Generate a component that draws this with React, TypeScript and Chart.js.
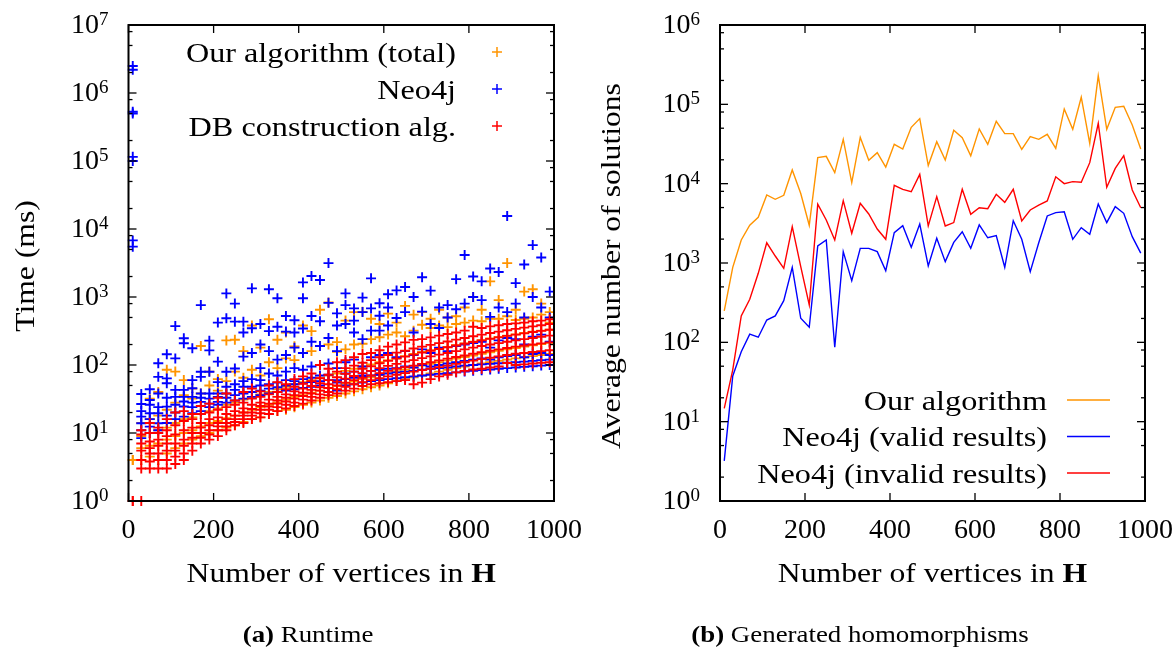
import React, { useEffect, useRef } from "react";
import { Chart, registerables } from "chart.js";

Chart.register(...registerables);

// ---------- data ----------
const X_COLS = [10, 30, 50, 70, 90, 110, 130, 150, 170, 190, 210, 230, 250, 270, 290, 310, 330, 350, 370, 390, 410, 430, 450, 470, 490, 510, 530, 550, 570, 590, 610, 630, 650, 670, 690, 710, 730, 750, 770, 790, 810, 830, 850, 870, 890, 910, 930, 950, 970, 990];
const X_TICKS = [0, 200, 400, 600, 800, 1000];
const RUNTIME_DECADES = [0, 1, 2, 3, 4, 5, 6, 7];
const SOLUTION_DECADES = [0, 1, 2, 3, 4, 5, 6];
const MINOR_MULTIPLES = [2, 5, 8];

// runtime (ms) per column of X_COLS
const runtimeOurs: number[][] = [
  [4, 4], [4, 6, 9, 14], [4.5, 6.5, 10, 16, 32], [4, 7, 11, 18, 40], [5, 8, 12, 22, 85],
  [6, 9, 14, 28, 80], [7, 10, 16, 36, 60], [8, 11, 17, 45, 32], [9, 12.5, 19, 38, 190], [10, 14, 21, 50, 80],
  [11, 15, 23, 42, 62], [12, 16.5, 26, 58, 230], [13, 18, 28, 80, 235], [14.5, 20, 31, 65, 160], [16, 22, 34, 85, 380],
  [17, 24, 37, 70, 180], [19, 26, 40, 110, 470], [21, 28, 44, 90, 235], [22, 31, 48, 125, 300], [24, 34, 52, 118, 188],
  [26, 36, 56, 150, 380], [28, 39, 60, 160, 315], [30, 42, 65, 190, 650], [33, 46, 70, 200, 830], [35, 49, 75, 157, 217],
  [38, 53, 82, 170, 450], [41, 57, 88, 200, 600], [44, 62, 95, 205, 605], [47, 66, 102, 240, 480], [50, 71, 110, 256, 400],
  [54, 76, 118, 280, 570], [58, 81, 126, 300, 420], [62, 86, 135, 265, 740], [66, 92, 145, 320, 550], [70, 98, 155, 390, 600],
  [75, 104, 165, 350, 480], [80, 110, 175, 380, 650], [85, 117, 185, 360, 500], [90, 124, 196, 400, 520], [95, 131, 208, 420, 700],
  [100, 138, 220, 450, 1000], [105, 146, 232, 440, 650], [110, 154, 245, 480, 1700], [115, 162, 258, 480, 900], [120, 170, 270, 520, 3150],
  [125, 178, 282, 460, 650], [130, 186, 295, 480, 1200], [135, 195, 308, 500, 1300], [140, 204, 320, 550, 800], [145, 212, 330, 420, 600],
];

const runtimeNeo4j: number[][] = [
  [2500000, 2200000, 530000, 500000, 115000, 100000, 6800, 5500],
  [8.4, 11, 13.9, 17.4, 21, 26.7, 37.5], [10, 12.4, 16, 19.5, 26, 30.5, 44], [11, 13.9, 19.5, 24, 38, 67, 106],
  [14, 18, 24.4, 33, 54, 63.5, 144], [16, 20, 26, 34, 43, 125, 373], [17.4, 24.5, 29, 34, 43, 209, 247],
  [19.5, 24, 28, 34, 45.5, 60, 176], [21, 28.7, 33, 38, 67, 79.5, 760], [24, 27, 32, 38, 79.5, 164, 228],
  [26, 28.7, 34, 38, 56, 112, 420], [28, 33, 38, 48, 79.5, 486, 1130], [30, 36, 43, 52, 89, 434, 800],
  [32, 38, 48, 58, 133, 300, 434], [34, 40, 48, 62, 150, 347, 1340], [36, 42, 50, 60, 90, 200, 400],
  [38, 45, 52, 75, 160, 315, 1300], [40, 47, 55, 70, 120, 365, 960], [42, 50, 60, 80, 140, 310, 525],
  [44, 52, 58, 90, 180, 300, 455], [46, 54, 62, 85, 150, 345, 960, 1640], [48, 56, 65, 95, 220, 525, 2040],
  [50, 58, 70, 100, 190, 440, 1780], [40, 60, 72, 105, 250, 820, 3150], [42, 55, 60, 90, 160, 380, 575],
  [50, 62, 75, 110, 400, 760, 1130], [52, 65, 80, 120, 300, 450, 680], [55, 68, 70, 95, 240, 600, 980],
  [58, 70, 82, 130, 320, 680, 1880], [60, 72, 85, 140, 320, 530, 810], [62, 75, 88, 150, 380, 700, 1100],
  [64, 78, 90, 130, 490, 1250], [66, 80, 95, 160, 600, 1400], [68, 82, 92, 140, 300, 1000],
  [70, 85, 100, 170, 610, 1950], [72, 88, 95, 150, 400, 1240], [74, 90, 100, 180, 350, 700],
  [76, 92, 105, 160, 500, 760], [78, 95, 110, 190, 660, 1830], [80, 98, 115, 200, 800, 4150],
  [82, 100, 120, 210, 1000, 2000], [84, 102, 125, 220, 900, 1700], [86, 104, 120, 180, 510, 2630],
  [88, 106, 130, 230, 700, 2330], [90, 108, 135, 250, 600, 15500], [92, 110, 140, 240, 800, 1600],
  [94, 112, 130, 200, 500, 3000], [96, 115, 145, 260, 1000, 5800], [98, 118, 150, 280, 700, 3800],
  [100, 120, 140, 220, 500, 1200],
];

const runtimeDB: number[][] = [
  [1, 1], [1, 3, 4, 5.5, 7, 9.5, 11], [3, 3.8, 5, 6, 7.5, 10, 14], [3, 4, 5, 6.5, 8, 10, 12], [3, 4, 5.5, 7, 9, 11, 16],
  [3.5, 4.5, 5.5, 7, 9.5, 13, 20], [4, 5, 6.5, 8, 11, 15, 21], [5.5, 7, 8.5, 10, 12, 16, 19], [7, 8.5, 10, 12, 14, 19, 25], [8, 9.5, 11, 13, 16, 20, 27],
  [9, 11, 12.5, 14, 17, 22, 33], [11, 12.5, 14, 16, 19, 24, 38], [13, 14.5, 16, 18, 21, 26, 30], [14, 16, 18, 20, 23, 28, 40], [16, 18, 20, 22.5, 26, 32, 45],
  [17, 19.5, 22, 25, 28, 34, 41], [19, 22, 24.5, 27, 31, 37, 50], [21, 24, 27, 30, 34, 40, 56], [23, 26, 29, 33, 37, 44, 52], [25, 28, 32, 36, 41, 48, 62],
  [27, 31, 35, 39, 45, 53, 68], [30, 34, 38, 43, 49, 58, 75], [33, 37, 42, 47, 54, 64, 100], [36, 40, 46, 52, 60, 72, 88], [38, 44, 50, 57, 66, 80, 110],
  [42, 48, 55, 63, 74, 90, 118], [45, 52, 60, 69, 80, 98, 130], [49, 56, 65, 76, 88, 108, 145], [52, 60, 70, 82, 96, 118, 150], [54, 64, 76, 90, 106, 130, 165],
  [56, 68, 82, 97, 115, 140, 186], [58, 72, 88, 104, 124, 152, 200], [60, 76, 93, 112, 133, 162, 215], [52, 80, 98, 118, 142, 175, 234], [55, 84, 104, 126, 152, 186, 240],
  [62, 88, 110, 134, 162, 198, 255], [68, 93, 117, 142, 172, 210, 270], [72, 98, 124, 150, 182, 222, 285], [78, 104, 131, 160, 194, 236, 300], [82, 110, 138, 170, 205, 250, 320],
  [86, 116, 146, 180, 218, 265, 365], [88, 122, 154, 190, 230, 280, 350], [92, 128, 162, 200, 242, 295, 370], [95, 134, 170, 210, 255, 310, 385], [107, 140, 178, 220, 268, 325, 400],
  [100, 146, 186, 230, 280, 340, 410], [102, 150, 194, 240, 292, 355, 420], [105, 155, 200, 250, 305, 370, 440], [108, 160, 208, 260, 318, 385, 450], [110, 165, 215, 270, 330, 400, 470],
];

// average number of solutions per X_COLS
const solOurs = [250, 880, 1950, 3000, 3770, 7200, 6350, 7130, 14900, 7500, 2990, 21300, 22100, 13800, 36200, 10300, 38400, 19700, 24600, 16200, 31300, 27300, 51400, 66100, 16900, 33800, 19900, 47100, 38000, 22500, 49000, 31300, 61100, 42700, 42700, 27100, 39100, 36200, 41900, 27900, 87400, 48400, 123000, 32200, 229700, 48400, 91600, 94400, 55000, 27300];
const solValid = [3.2, 37.7, 76, 127, 116, 191, 215, 335, 883, 201, 155, 1640, 1950, 86.6, 1390, 598, 1530, 1530, 1390, 800, 2410, 2950, 1580, 3100, 917, 2050, 1040, 1820, 2480, 1530, 3020, 2080, 2210, 883, 3410, 1990, 777, 1800, 3920, 4310, 4430, 1990, 2790, 2300, 5540, 3230, 5130, 4230, 2150, 1330];
const solInvalid = [14.7, 45, 215, 349, 741, 1800, 1225, 858, 2870, 900, 296, 5500, 3480, 1950, 6100, 2370, 5660, 4150, 2680, 1990, 9540, 8490, 7920, 13100, 2930, 6860, 2930, 3230, 8490, 4110, 4980, 4840, 7350, 5820, 8490, 3390, 4660, 5380, 6050, 12200, 10000, 10600, 10400, 18400, 57700, 9000, 15600, 22500, 8320, 4980];

// ---------- styling ----------
const ORANGE = "rgb(255,148,0)";
const BLUE = "rgb(0,0,255)";
const RED = "rgb(255,0,0)";
const FONT = '"Liberation Serif", "Times New Roman", serif';
const SX = 1.15;

function font(size: number, bold = false) {
  return `${bold ? "bold " : ""}${size}px ${FONT}`;
}

type Part = { t: string; bold?: boolean };

function drawParts(ctx: CanvasRenderingContext2D, parts: Part[], x: number, y: number, size: number, align: "left" | "center" | "right", sx = SX, rot = 0) {
  ctx.save();
  ctx.textBaseline = "alphabetic";
  ctx.textAlign = "left";
  const widths = parts.map((p) => {
    ctx.font = font(size, p.bold);
    return ctx.measureText(p.t).width;
  });
  const total = widths.reduce((a, b) => a + b, 0);
  ctx.translate(x, y);
  if (rot) ctx.rotate(rot);
  ctx.scale(sx, 1);
  let start = align === "left" ? 0 : align === "center" ? -total / 2 : -total;
  parts.forEach((p, i) => {
    ctx.font = font(size, p.bold);
    ctx.fillText(p.t, start, 0);
    start += widths[i];
  });
  ctx.restore();
}

type Legend = { label: string; color: string; kind: "cross" | "line" };
type Cfg = {
  decades: number[];
  yTitle: string;
  yTitleOffset: number;
  legend: Legend[];
  legendRight: number;
  legendTop: number;
  legendStep: number;
  caption: Part[];
  captionX: number;
};

function makePlugin(cfg: Cfg) {
  return {
    id: "gnuplotFrame",
    afterDraw(chart: any) {
      const { ctx, chartArea: a, scales } = chart;
      const xs = scales.x;
      const ys = scales.y;
      ctx.save();
      ctx.fillStyle = "#000";
      ctx.strokeStyle = "#000";
      const seg = (x1: number, y1: number, x2: number, y2: number) => {
        ctx.beginPath();
        ctx.moveTo(x1, y1);
        ctx.lineTo(x2, y2);
        ctx.stroke();
      };
      // ticks
      ctx.lineWidth = 1.3;
      X_TICKS.forEach((t) => {
        const px = xs.getPixelForValue(t);
        seg(px, a.bottom, px, a.bottom - 8);
        seg(px, a.top, px, a.top + 8);
      });
      const maxDec = cfg.decades[cfg.decades.length - 1];
      cfg.decades.forEach((k) => {
        const py = ys.getPixelForValue(Math.pow(10, k));
        seg(a.left, py, a.left + 8, py);
        seg(a.right, py, a.right - 8, py);
        if (k < maxDec) {
          MINOR_MULTIPLES.forEach((m) => {
            const q = ys.getPixelForValue(m * Math.pow(10, k));
            seg(a.left, q, a.left + 4, q);
            seg(a.right, q, a.right - 4, q);
          });
        }
      });
      // frame
      ctx.lineWidth = 2;
      ctx.strokeRect(a.left, a.top, a.right - a.left, a.bottom - a.top);

      // x tick labels
      ctx.font = font(28);
      ctx.textAlign = "center";
      ctx.textBaseline = "alphabetic";
      X_TICKS.forEach((t) => {
        ctx.fillText(String(t), xs.getPixelForValue(t), a.bottom + 37);
      });
      // y tick labels 10^k
      cfg.decades.forEach((k) => {
        const py = ys.getPixelForValue(Math.pow(10, k));
        const right = a.left - 20;
        ctx.font = font(19);
        const ew = ctx.measureText(String(k)).width;
        ctx.textAlign = "left";
        ctx.fillText(String(k), right - ew, py);
        ctx.font = font(28);
        ctx.textAlign = "right";
        ctx.fillText("10", right - ew, py + 8);
      });

      // axis titles
      const cx = (a.left + a.right) / 2;
      drawParts(ctx, [{ t: "Number of vertices in " }, { t: "H", bold: true }], cx, a.bottom + 81, 28, "center", 1.13);
      drawParts(ctx, [{ t: cfg.yTitle }], a.left - cfg.yTitleOffset, (a.top + a.bottom) / 2 + 3, 28, "center", 1.13, -Math.PI / 2);

      // legend
      cfg.legend.forEach((e, i) => {
        const ry = cfg.legendTop + i * cfg.legendStep;
        ctx.fillStyle = "#000";
        drawParts(ctx, [{ t: e.label }], cfg.legendRight, ry + 9.5, 28, "right");
        ctx.strokeStyle = e.color;
        ctx.lineWidth = 1.5;
        if (e.kind === "cross") {
          const sx0 = cfg.legendRight + 41;
          seg(sx0 - 5, ry, sx0 + 5, ry);
          seg(sx0, ry - 5, sx0, ry + 5);
        } else {
          seg(cfg.legendRight + 20, ry, cfg.legendRight + 63, ry);
        }
      });

      // caption
      ctx.fillStyle = "#000";
      drawParts(ctx, cfg.caption, cfg.captionX, 642, 24, "center", 1.12);
      ctx.restore();
    },
  };
}

function scatterData(cols: number[][]) {
  const out: { x: number; y: number }[] = [];
  cols.forEach((vals, i) => vals.forEach((v) => out.push({ x: X_COLS[i], y: v })));
  return out;
}

function lineData(vals: number[]) {
  return vals.map((v, i) => ({ x: X_COLS[i], y: v }));
}

function crossSet(label: string, cols: number[][], color: string, order: number) {
  return {
    label,
    data: scatterData(cols),
    pointStyle: "cross",
    pointRadius: 5,
    pointBorderWidth: 1.9,
    borderColor: color,
    pointBorderColor: color,
    backgroundColor: color,
    showLine: false,
    clip: false,
    order,
  };
}

function lineSet(label: string, vals: number[], color: string, order: number) {
  return {
    label,
    data: lineData(vals),
    borderColor: color,
    backgroundColor: color,
    borderWidth: 1.4,
    pointRadius: 0,
    tension: 0,
    fill: false,
    order,
  };
}

export default function App() {
  const leftRef = useRef<HTMLCanvasElement>(null);
  const rightRef = useRef<HTMLCanvasElement>(null);

  useEffect(() => {
    const left = new Chart(leftRef.current as HTMLCanvasElement, {
      type: "scatter",
      data: {
        datasets: [
          crossSet("Our algorithm (total)", runtimeOurs, ORANGE, 3),
          crossSet("Neo4j", runtimeNeo4j, BLUE, 2),
          crossSet("DB construction alg.", runtimeDB, RED, 1),
        ] as any,
      },
      options: {
        responsive: false,
        animation: false,
        devicePixelRatio: 1,
        events: [],
        layout: { padding: { left: 128.5, right: 46, top: 25, bottom: 149 } },
        plugins: { legend: { display: false }, tooltip: { enabled: false } },
        scales: {
          x: { type: "linear", min: 0, max: 1000, display: false },
          y: { type: "logarithmic", min: 1, max: 1e7, display: false },
        },
      } as any,
      plugins: [
        makePlugin({
          decades: RUNTIME_DECADES,
          yTitle: "Time (ms)",
          yTitleOffset: 94.5,
          legend: [
            { label: "Our algorithm (total)", color: ORANGE, kind: "cross" },
            { label: "Neo4j", color: BLUE, kind: "cross" },
            { label: "DB construction alg.", color: RED, kind: "cross" },
          ],
          legendRight: 456,
          legendTop: 52,
          legendStep: 37,
          caption: [{ t: "(a)", bold: true }, { t: " Runtime" }],
          captionX: 308,
        }) as any,
      ],
    });

    const right = new Chart(rightRef.current as HTMLCanvasElement, {
      type: "line",
      data: {
        datasets: [
          lineSet("Our algorithm", solOurs, ORANGE, 3),
          lineSet("Neo4j (valid results)", solValid, BLUE, 2),
          lineSet("Neo4j (invalid results)", solInvalid, RED, 1),
        ] as any,
      },
      options: {
        responsive: false,
        animation: false,
        devicePixelRatio: 1,
        events: [],
        layout: { padding: { left: 120, right: 30, top: 25, bottom: 149 } },
        plugins: { legend: { display: false }, tooltip: { enabled: false } },
        scales: {
          x: { type: "linear", min: 0, max: 1000, display: false },
          y: { type: "logarithmic", min: 1, max: 1e6, display: false },
        },
      } as any,
      plugins: [
        makePlugin({
          decades: SOLUTION_DECADES,
          yTitle: "Average number of solutions",
          yTitleOffset: 100,
          legend: [
            { label: "Our algorithm", color: ORANGE, kind: "line" },
            { label: "Neo4j (valid results)", color: BLUE, kind: "line" },
            { label: "Neo4j (invalid results)", color: RED, kind: "line" },
          ],
          legendRight: 447,
          legendTop: 400,
          legendStep: 36.5,
          caption: [{ t: "(b)", bold: true }, { t: " Generated homomorphisms" }],
          captionX: 260,
        }) as any,
      ],
    });

    return () => {
      left.destroy();
      right.destroy();
    };
  }, []);

  return (
    <div style={{ position: "fixed", left: 0, top: 0, width: 1175, height: 650, background: "#fff", overflow: "hidden" }}>
      <canvas ref={leftRef} width={600} height={650} style={{ position: "absolute", left: 0, top: 0, width: 600, height: 650 }} />
      <canvas ref={rightRef} width={575} height={650} style={{ position: "absolute", left: 600, top: 0, width: 575, height: 650 }} />
    </div>
  );
}
